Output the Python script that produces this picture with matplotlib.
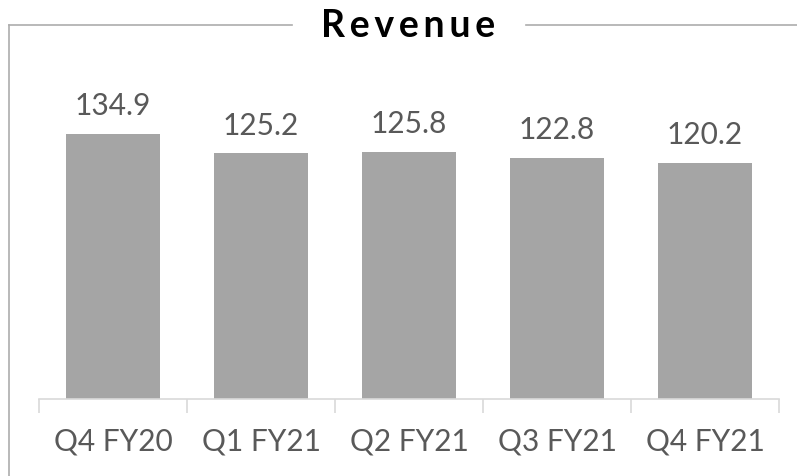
import matplotlib
matplotlib.use("Agg")
import matplotlib.pyplot as plt
from matplotlib.lines import Line2D

quarters = ["Q4 FY20", "Q1 FY21", "Q2 FY21", "Q3 FY21", "Q4 FY21"]
revenue = [134.9, 125.2, 125.8, 122.8, 120.2]

W, H = 797, 477
fig = plt.figure(figsize=(W / 100, H / 100), dpi=100)

# axes box in pixels: baseline at y=400, axis from x=39 to 779
x0, x1, yb = 39, 779, 400
ymax = 160
ytop = yb - ymax * 1.965
ax = fig.add_axes([x0 / W, 1 - yb / H, (x1 - x0) / W, (yb - ytop) / H])

bar_color = "#A5A5A5"
text_color = "#595959"
axis_color = "#D9D9D9"
frame_color = "#ADADAD"

xs = range(len(quarters))
bars = ax.bar(xs, revenue, width=0.635, color=bar_color, zorder=2)
for b, v in zip(bars, revenue):
    ax.annotate("%.1f" % v, (b.get_x() + b.get_width() / 2, v),
                xytext=(0, 14), textcoords="offset points",
                ha="center", va="baseline", fontsize=21.5,
                family="Lato", color=text_color)

ax.set_xlim(-0.5, len(quarters) - 0.5)
ax.set_ylim(0, ymax)
ax.set_yticks([])
ax.set_xticks(xs)
ax.set_xticklabels(quarters, fontsize=21.5, family="Lato", color=text_color)
ax.set_xticks([i - 0.5 for i in range(len(quarters) + 1)], minor=True)
ax.tick_params(axis="x", which="major", length=0, pad=20)
ax.tick_params(axis="x", which="minor", length=10, width=1.2, color=axis_color)
for s in ["top", "right", "left"]:
    ax.spines[s].set_visible(False)
ax.spines["bottom"].set_color(axis_color)
ax.spines["bottom"].set_linewidth(1.2)

# open frame around the chart, broken by the title
ty = 1 - 26 / H
fig.add_artist(Line2D([9 / W, 9 / W], [0, ty], color=frame_color, lw=1.2))
fig.add_artist(Line2D([9 / W, 292 / W], [ty, ty], color=frame_color, lw=1.2))
fig.add_artist(Line2D([526 / W, 1], [ty, ty], color=frame_color, lw=1.2))

fig.text(408 / W, 1 - 37 / H, "\u2009".join("Revenue"), ha="center", va="baseline",
         fontsize=27, family="Lato", weight="bold", color="black")

fig.savefig("out.png", dpi=100)
